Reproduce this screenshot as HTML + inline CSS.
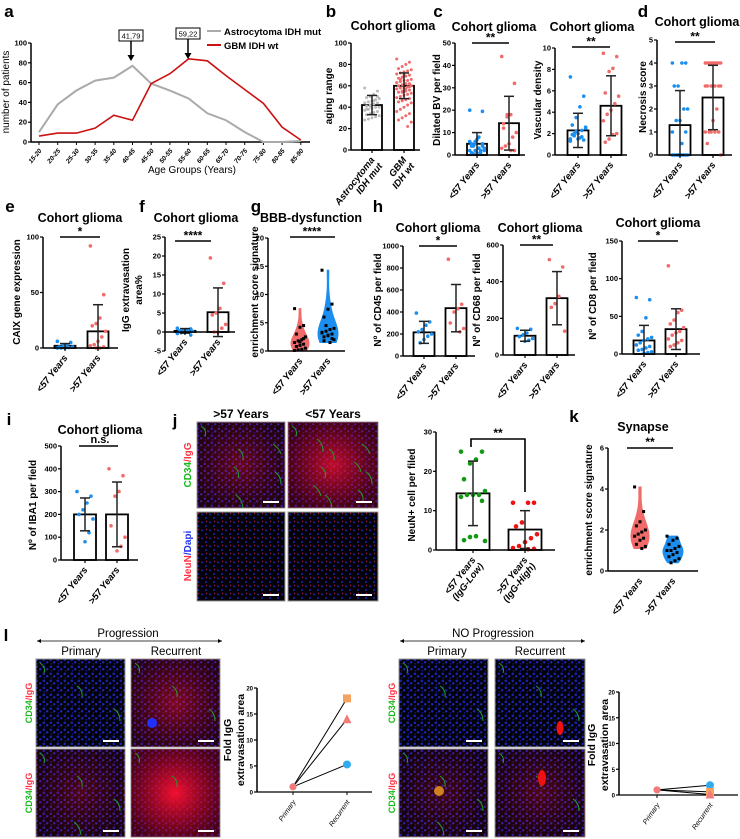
<!DOCTYPE html>
<html><head><meta charset="utf-8"><style>
html,body{margin:0;padding:0;background:#fff;}
svg{display:block;font-family:"Liberation Sans",Arial,sans-serif;}
</style></head><body>
<svg id="fig" width="740" height="839" viewBox="0 0 740 839" xmlns="http://www.w3.org/2000/svg">
<defs>
<pattern id="nuc" width="7" height="7" patternUnits="userSpaceOnUse"><rect width="7" height="7" fill="#030208"/><circle cx="1.8" cy="1.8" r="1.3" fill="#1822b0"/><circle cx="5.2" cy="4.3" r="1.2" fill="#2028c0"/><circle cx="2.5" cy="5.8" r="0.8" fill="#121890"/></pattern>
<pattern id="nuc2" width="8" height="8" patternUnits="userSpaceOnUse"><rect width="8" height="8" fill="#020108"/><circle cx="2" cy="2.5" r="1" fill="#1a28b0"/><circle cx="6" cy="6" r="1" fill="#2222b8"/><circle cx="6.5" cy="1.5" r="0.7" fill="#b01840"/></pattern>
<radialGradient id="redg" cx="50%" cy="50%" r="60%"><stop offset="0" stop-color="#ff1030" stop-opacity="1"/><stop offset="1" stop-color="#a00020" stop-opacity="0.45"/></radialGradient>
</defs>
</svg>
<script>
// ---------- DATA ----------
const ageGroups=["15-20","20-25","25-30","30-35","35-40","40-45","45-50","50-55","55-60","60-65","65-70","70-75","75-80","80-85","85-90"];
const astroCounts=[10,38,52,62,65,77,59,52,44,29,22,10,0,0,1];
const gbmCounts=[6,9,9,14,27,22,59,69,84,82,67,53,39,15,2];
const aTicks=[0,20,40,60,80,100];

const bMeans=[42,60]; const bSd=[9,12];
const bAstro=[58,55,52,50,49,48,47,46,45,44,44,43,42,41,40,40,39,38,37,36,35,34,33,32,31,30,29,28,50,46,41,38];
const bGbm=[85,82,80,78,76,75,74,73,72,71,70,69,68,67,66,65,65,64,63,62,62,61,60,60,59,58,58,57,56,55,55,54,53,52,51,50,49,48,47,46,45,44,42,40,38,36,34,32,30,28,26,22,70,66,63,59,57,54];

const c1Means=[5,14.2]; const c1Sd=[5,12];
const c1Blue=[20,19.5,8,5,4,3,2,1,0.5,6,4,3,2,5,3,1,7,4,2,5,3,6,1,2];
const c1Red=[44,32,18,18,14,10,8,5,4,3,2,2,17,12];
const c2Means=[2.3,4.6]; const c2Sd=[1.6,2.8];
const c2Blue=[7.3,5.5,4.5,3.5,2.8,2.5,2.3,2,1.8,1.5,1.4,1.6,2.2,1.9,2.6,1.7,1.5,2,1.3];
const c2Red=[9.5,9.2,8.1,7.8,5.8,5.5,4.8,4.2,3.8,3.2,2,1.9,1.5,1.2];
const dMeans=[1.3,2.5]; const dSd=[1.5,1.4];
const dBlue=[4,4,4,3,3,2,2,1.5,1.5,1,1,0.5,0,0,0,0,0,0,0,0,0,0];
const dRed=[4,4,4,4,4,4,4,4,4,3,3,3,3,3,3,2,1.5,1,1,1,1,1,0.5,0];

const eMeans=[2,15]; const eSd=[2,24];
const eBlue=[6,5,3,2,1,1,0.5,0,0,0];
const eRed=[92,48,27,22,20,15,10,6,3,2,1,0,0];
const fMeans=[0.3,5.2]; const fSd=[0.6,6.4];
const fBlue=[1,0.8,0.6,0.5,0.3,0.2,0,0,-0.2,-0.4,-0.8,0.4,0.1];
const fRed=[19.5,12.8,6.2,5,4.5,2,1,0,0];
const gRed=[7.5,4.5,4.2,3,2.5,2,1.8,1.5,1.2,1,0.8,0.5,0.3,0.2,0.1,2.2,1.6];
const gBlue=[14.3,8.3,7.4,6,4,3.8,3.5,3.2,3,2.8,2.5,2,1.5,4.5,3.3,2.2,2.7,1.8];

const h1Means=[215,435]; const h1Sd=[100,215];
const h1Blue=[390,310,280,240,220,200,180,150,120];
const h1Red=[880,470,430,400,300,250,220];
const h2Means=[105,310]; const h2Sd=[30,145];
const h2Blue=[145,140,120,110,100,90,80,75];
const h2Red=[520,480,320,280,260,130];
const h3Means=[18,33]; const h3Sd=[20,27];
const h3Blue=[75,72,48,30,25,22,20,18,15,12,10,8,6,5,3,2,1];
const h3Red=[117,58,55,45,40,35,30,28,25,20,18,15,12,10];

const iMeans=[200,200]; const iSd=[72,142];
const iBlue=[300,280,250,220,200,180,120,80];
const iRed=[400,370,300,280,150,100,60,40];
const jMeans=[14.4,5.2]; const jSd=[8.2,4.8];
const jGreen=[25,25,23,22,18,15,14,14,14,13.5,12.5,3.5,3.3,2.5,2.3];
const jRed=[12,12,12,7,6,4,3,2,1,0.5,0.3,0.2];
const kRed=[4.1,2.9,2.4,2.2,2,1.9,1.8,1.7,1.6,1.5,1.3,1.2,1.1];
const kBlue=[1.7,1.6,1.5,1.3,1.2,1.1,1,1,0.9,0.8,0.7,0.6,0.5,0.4];

const lProgPrimary=[1,1,1]; const lProgRecurrent=[5.3,18,14];
const lNoPrimary=[1,1,1]; const lNoRecurrent=[1.9,0.6,0.1];
const lTicks=[0,5,10,15,20];

// ---------- HELPERS ----------
const NS="http://www.w3.org/2000/svg";
const svg=document.getElementById('fig');
function mk(tag,attrs,name,parent){
  const el=document.createElementNS(NS,tag);
  for(const k in attrs) el.setAttribute(k,attrs[k]);
  
  
  (parent||svg).appendChild(el); return el;
}
function txt(x,y,s,size,name,opt){
  opt=opt||{};
  const a={x:x,y:y,'font-size':size,'font-weight':opt.w||'bold',fill:opt.fill||'#000','text-anchor':opt.anchor||'middle'};
  if(opt.rot!==undefined) a.transform=`rotate(${opt.rot} ${x} ${y})`;
  if(opt.italic) a['font-style']='italic';
  const t=mk('text',a,name,opt.parent); t.textContent=s; return t;
}
function line(x1,y1,x2,y2,name,sw,col,parent){return mk('line',{x1:x1,y1:y1,x2:x2,y2:y2,stroke:col||'#000','stroke-width':sw||1.5},name,parent);}
function lin(d0,d1,r0,r1){return v=>r0+(v-d0)*(r1-r0)/(d1-d0);}
function yAxis(x,ys,ticks,name,fs){
  const g=mk('g',{},name);
  line(x,ys(ticks[0]),x,ys(ticks[ticks.length-1]),name+'-line',1.5,'#000',g);
  ticks.forEach(t=>{line(x-3,ys(t),x,ys(t),name+'-tick',1.2,'#000',g);txt(x-4,ys(t)+2.5,String(t),fs||7.5,name+'-label',{anchor:'end',parent:g});});
}
function xLabels(cs,y,labels,name,lines2){
  labels.forEach((s,i)=>{
    const t=txt(cs[i]+3,y,s,9.5,name,{anchor:'end',rot:-52,italic:true});
    if(lines2){t.textContent='';const a=mk('tspan',{x:cs[i]+3,dy:0},name+'-line1',t);a.textContent=s;const b=mk('tspan',{x:cs[i]+3,dy:10},name+'-line2',t);b.textContent=lines2[i];}
  });
}
function barPanel(p){
  const ys=lin(p.ticks[0],p.ticks[p.ticks.length-1],p.y0,p.yTop);
  const g=mk('g',{},p.name);
  p.means.forEach((m,i)=>{
    mk('rect',{x:p.cs[i]-p.bw/2,y:ys(Math.max(m,p.ticks[0])),width:p.bw,height:ys(p.ticks[0]<0?0:p.ticks[0])-ys(m),fill:'#fff',stroke:'#000','stroke-width':1.8},p.name+'-bar-'+i,g);
  });
  p.dots.forEach((arr,gi)=>{
    arr.forEach((v,i)=>{
      const off=(((i*7)%9)-4)*p.bw/11;
      mk('circle',{cx:p.cs[gi]+off,cy:ys(v),r:p.r||1.8,fill:p.colors[gi]},p.name+'-dot',g);
    });
  });
  p.means.forEach((m,i)=>{
    const lo=Math.max(m-p.sd[i],p.ticks[0]),hi=m+p.sd[i];
    line(p.cs[i],ys(lo),p.cs[i],ys(hi),p.name+'-errbar',1.5,'#222',g);
    line(p.cs[i]-5,ys(hi),p.cs[i]+5,ys(hi),p.name+'-errcap',1.5,'#222',g);
    line(p.cs[i]-5,ys(lo),p.cs[i]+5,ys(lo),p.name+'-errcap',1.5,'#222',g);
  });
  yAxis(p.x0,ys,p.ticks,p.name+'-y-axis');
  const zeroY=p.ticks[0]<0?ys(0):p.y0;
  line(p.x0,zeroY,p.xEnd,zeroY,p.name+'-x-axis',1.5,'#000',g);
  p.cs.forEach(c=>line(c,zeroY,c,zeroY+3,p.name+'-x-tick',1.2,'#000',g));
  if(p.title) txt(p.titleX,p.titleY,p.title,12.5,p.name+'-title');
  if(p.sig){line(p.sig[0],p.sig[2],p.sig[1],p.sig[2],p.name+'-sig-line',1.6);txt((p.sig[0]+p.sig[1])/2,p.sig[2]-1.5,p.sig[3],12,p.name+'-sig-text');}
  txt(p.ylx,p.yly,p.ylabel,10,p.name+'-y-axis-title',{rot:-90});
  if(p.ylabel2) txt(p.ylx+13,p.yly,p.ylabel2,10,p.name+'-y-axis-title-2',{rot:-90});
  xLabels(p.cs,zeroY+10,p.xl||['<57 Years','>57 Years'],p.name+'-x-label',p.xl2);
  return ys;
}
function violin(cx,ys,vals,col,name,maxW){
  const lo=Math.min(...vals),hi=Math.max(...vals),n=24,bwd=(hi-lo)/6||0.3;
  const pts=[];let mx=0;
  for(let k=0;k<=n;k++){const v=lo+(hi-lo)*k/n;let d=0;vals.forEach(x=>{d+=Math.exp(-0.5*((v-x)/bwd)**2);});pts.push([v,d]);mx=Math.max(mx,d);}
  let dstr='';pts.forEach((p,k)=>{dstr+=(k?'L':'M')+(cx+p[1]/mx*maxW)+','+ys(p[0]);});
  for(let k=pts.length-1;k>=0;k--){dstr+='L'+(cx-pts[k][1]/mx*maxW)+','+ys(pts[k][0]);}
  mk('path',{d:dstr+'Z',fill:col,stroke:col,'stroke-width':1},name);
  vals.forEach((v,i)=>{const off=(((i*5)%7)-3)*maxW/5;mk('rect',{x:cx+off-1.5,y:ys(v)-1.5,width:3,height:3,fill:'#000'},name+'-dot');});
}
function micro(x,y,w,h,red,green,name,pat,extra){
  const g=mk('g',{},name);
  mk('rect',{x:x,y:y,width:w,height:h,fill:'url(#'+(pat||'nuc')+')',stroke:'#999','stroke-width':1},name+'-bg',g);
  if(red>0) mk('rect',{x:x,y:y,width:w,height:h,fill:'url(#redg)',opacity:red},name+'-red',g);
  for(let k=0;k<green;k++){const px=x+((k*37)%(w-12))+4,py=y+((k*23)%(h-12))+4;mk('path',{d:`M${px},${py} q6,4 ${4+k%5},${10+k%4}`,stroke:'#20a030','stroke-width':1,fill:'none'},name+'-vessel',g);}
  if(extra) extra(g);
  line(x+w-22,y+h-6,x+w-6,y+h-6,name+'-scale-bar',2,'#fff',g);
}

// ---------- PANEL A ----------
txt(9,17,'a',17,'panel-label-a');
{
  const xs=i=>39+i*18.7, ys=lin(0,100,142,43);
  yAxis(31,ys,aTicks,'a-y-axis',7.5);
  line(31,142,310,142,'a-x-axis');
  ageGroups.forEach((s,i)=>{line(xs(i),142,xs(i),145,'a-x-tick',1);txt(xs(i)+3,151,s,6.5,'a-x-tick-label',{anchor:'end',rot:-50,italic:true});});
  let d1='',d2='';
  astroCounts.forEach((v,i)=>{d1+=(i?'L':'M')+xs(i)+','+ys(v);});
  gbmCounts.forEach((v,i)=>{d2+=(i?'L':'M')+xs(i)+','+ys(v);});
  mk('path',{d:d1,fill:'none',stroke:'#aaaaaa','stroke-width':2},'astrocytoma-line');
  mk('path',{d:d2,fill:'none',stroke:'#cc1111','stroke-width':1.6},'gbm-line');
  txt(192,173,'Age Groups (Years)',10,'a-x-axis-title',{w:'normal'});
  txt(9,92,'number of patients',10,'a-y-axis-title',{rot:-90,w:'normal'});
  line(207,31,221,31,'legend-astro-swatch',2,'#aaa');txt(224,35,'Astrocytoma IDH mut',9.5,'legend-astro-label',{anchor:'start'});
  line(207,45,221,45,'legend-gbm-swatch',2,'#cc1111');txt(224,49,'GBM IDH wt',9.5,'legend-gbm-label',{anchor:'start'});
  mk('rect',{x:119,y:30,width:24,height:11,fill:'#fff',stroke:'#000','stroke-width':1},'median-box-astro');txt(131,38.5,'41,79',7.5,'median-astro',{w:'normal'});
  line(131,41,131,59,'arrow-astro',1.5);mk('path',{d:'M127.5,55 L131,61 L134.5,55Z',fill:'#000'},'arrow-astro-head');
  mk('rect',{x:176,y:28,width:24,height:11,fill:'#fff',stroke:'#000','stroke-width':1},'median-box-gbm');txt(188,36.5,'59,22',7.5,'median-gbm',{w:'normal'});
  line(188,39,188,57,'arrow-gbm',1.5);mk('path',{d:'M184.5,53 L188,59 L191.5,53Z',fill:'#000'},'arrow-gbm-head');
}
// ---------- PANEL B ----------
txt(331,17,'b',17,'panel-label-b');
barPanel({name:'b',x0:351,y0:150,yTop:43,ticks:[0,20,40,60,80,100],cs:[372,404],bw:20,means:bMeans,sd:bSd,dots:[bAstro,bGbm],colors:['#bbb','#f26b6b'],r:1.5,xEnd:420,title:'Cohort glioma',titleX:393,titleY:30,ylabel:'aging range',ylx:332,yly:96,xl:['Astrocytoma','GBM'],xl2:['IDH mut','IDH wt']});
// ---------- PANEL C ----------
txt(438,17,'c',17,'panel-label-c');
barPanel({name:'c1',x0:455,y0:155,yTop:43,ticks:[0,10,20,30,40,50],cs:[477,509],bw:20,means:c1Means,sd:c1Sd,dots:[c1Blue,c1Red],colors:['#1b8ef0','#f26b6b'],xEnd:525,title:'Cohort glioma',titleX:494,titleY:31,sig:[472,509,43,'**'],ylabel:'Dilated BV per field',ylx:440,yly:100});
barPanel({name:'c2',x0:555,y0:155,yTop:48,ticks:[0,2,4,6,8,10],cs:[578,611],bw:21,means:c2Means,sd:c2Sd,dots:[c2Blue,c2Red],colors:['#1b8ef0','#f26b6b'],xEnd:627,title:'Cohort glioma',titleX:592,titleY:31,sig:[572,610,47,'**'],ylabel:'Vascular density',ylx:541,yly:100});
// ---------- PANEL D ----------
txt(643,17,'d',17,'panel-label-d');
barPanel({name:'d',x0:657,y0:155,yTop:40,ticks:[0,1,2,3,4,5],cs:[680,713],bw:21,means:dMeans,sd:dSd,dots:[dBlue,dRed],colors:['#1b8ef0','#f26b6b'],xEnd:732,title:'Cohort glioma',titleX:697,titleY:26,sig:[675,715,42,'**'],ylabel:'Necrosis score',ylx:646,yly:97});
// ---------- ROW 2 ----------
txt(10,212,'e',17,'panel-label-e');
barPanel({name:'e',x0:43,y0:348,yTop:237,ticks:[0,50,100],cs:[65,98],bw:21,means:eMeans,sd:eSd,dots:[eBlue,eRed],colors:['#1b8ef0','#f26b6b'],xEnd:118,title:'Cohort glioma',titleX:80,titleY:222,sig:[60,100,237,'*'],ylabel:'CAIX gene expression',ylx:20,yly:292});
txt(142,212,'f',17,'panel-label-f');
barPanel({name:'f',x0:165,y0:351,yTop:237,ticks:[-5,0,5,10,15,20,25],cs:[185,218],bw:21,means:fMeans,sd:fSd,dots:[fBlue,fRed],colors:['#1b8ef0','#f26b6b'],xEnd:235,title:'Cohort glioma',titleX:196,titleY:222,sig:[175,211,241,'****'],ylabel:'IgG extravasation',ylabel2:'area%',ylx:129,yly:290});
txt(256,212,'g',17,'panel-label-g');
{
  const ys=lin(0,20,351,238);
  yAxis(268,ys,[0,5,10,15,20],'g-y-axis');
  violin(300,ys,gRed,'#f26b6b','g-violin-young',9);
  violin(328,ys,gBlue,'#1b8ef0','g-violin-old',10);
  txt(311,222,'BBB-dysfunction',12.5,'g-title');
  line(290,237,335,237,'g-sig-line',1.6);txt(312,235.5,'****',12,'g-sig-text');
  txt(258,292,'enrichment score signature',10,'g-y-axis-title',{rot:-90});
  line(268,351,345,351,'g-x-axis');
  xLabels([300,328],361,['<57 Years','>57 Years'],'g-x-label');
}
txt(378,212,'h',17,'panel-label-h');
barPanel({name:'h1',x0:403,y0:356,yTop:246,ticks:[0,200,400,600,800,1000],cs:[424,456],bw:21,means:h1Means,sd:h1Sd,dots:[h1Blue,h1Red],colors:['#1b8ef0','#f26b6b'],xEnd:475,title:'Cohort glioma',titleX:438,titleY:232,sig:[419,457,246,'*'],ylabel:'Nº of CD45 per field',ylx:381,yly:300});
barPanel({name:'h2',x0:503,y0:355,yTop:245,ticks:[0,200,400,600],cs:[525,557],bw:21,means:h2Means,sd:h2Sd,dots:[h2Blue,h2Red],colors:['#1b8ef0','#f26b6b'],xEnd:575,title:'Cohort glioma',titleX:540,titleY:232,sig:[520,553,245,'**'],ylabel:'Nº of CD68 per field',ylx:480,yly:300});
barPanel({name:'h3',x0:622,y0:354,yTop:241,ticks:[0,50,100,150],cs:[644,676],bw:21,means:h3Means,sd:h3Sd,dots:[h3Blue,h3Red],colors:['#1b8ef0','#f26b6b'],xEnd:700,title:'Cohort glioma',titleX:658,titleY:227,sig:[638,678,241,'*'],ylabel:'Nº of CD8 per field',ylx:596,yly:296});
// ---------- ROW 3 ----------
txt(9,425,'i',17,'panel-label-i');
barPanel({name:'i',x0:61,y0:560,yTop:446,ticks:[0,100,200,300,400,500],cs:[85,117],bw:22,means:iMeans,sd:iSd,dots:[iBlue,iRed],colors:['#1b8ef0','#f26b6b'],xEnd:138,title:'Cohort glioma',titleX:100,titleY:434,sig:[79,118,446,''],ylabel:'Nº of IBA1 per field',ylx:36,yly:505});
txt(100,443,'n.s.',11,'i-sig-text');
txt(175,426,'j',17,'panel-label-j');
txt(241,418,'>57 Years',12,'j-header-old');
txt(333,418,'<57 Years',12,'j-header-young');
micro(197,422,88,86,0.4,6,'j-img-old-cd34');
micro(288,422,90,86,0.75,10,'j-img-young-cd34');
micro(197,512,88,89,0,0,'j-img-old-neun','nuc2');
micro(288,512,90,89,0,0,'j-img-young-neun','nuc2');
{const t=txt(191,465,'',10,'j-side-label-cd34',{rot:-90});const a=mk('tspan',{fill:'#1bb81b'},'cd34-word',t);a.textContent='CD34';const b=mk('tspan',{fill:'#ff3344'},'igg-word',t);b.textContent='/IgG';}
{const t=txt(191,556,'',10,'j-side-label-neun',{rot:-90});const a=mk('tspan',{fill:'#ff3344'},'neun-word',t);a.textContent='NeuN';const b=mk('tspan',{fill:'#2233ee'},'dapi-word',t);b.textContent='/Dapi';}
barPanel({name:'jc',x0:436,y0:550,yTop:432,ticks:[0,10,20,30],cs:[473,525],bw:33,means:jMeans,sd:jSd,dots:[jGreen,jRed],colors:['#119911','#ee1111'],r:2.3,xEnd:555,ylabel:'NeuN+ cell per filed',ylx:415,yly:495,xl:['<57 Years','>57 Years'],xl2:['(IgG-Low)','(IgG-High)']});
mk('path',{d:'M471,447 L471,439 L525,439 L525,492',fill:'none',stroke:'#000','stroke-width':1.6},'jc-sig-bracket');
txt(498,437,'**',12,'jc-sig-text');
txt(574,422,'k',17,'panel-label-k');
{
  const ys=lin(0,6,571,448);
  yAxis(608,ys,[0,2,4,6],'k-y-axis');
  line(608,571,698,571,'k-x-axis');
  violin(640,ys,kRed,'#f26b6b','k-violin-young',9);
  violin(673,ys,kBlue,'#1b8ef0','k-violin-old',10);
  txt(643,431,'Synapse',12.5,'k-title');
  line(627,448,673,448,'k-sig-line',1.6);txt(650,446,'**',12,'k-sig-text');
  txt(592,510,'enrichment score signature',10,'k-y-axis-title',{rot:-90});
  xLabels([640,673],581,['<57 Years','>57 Years'],'k-x-label');
}
// ---------- PANEL L ----------
txt(6,641,'l',17,'panel-label-l');
function header(cx,x1,x2,s,name,p1,p2){
  txt(cx,637,s,11.5,name+'-title',{w:'normal'});
  line(x1,641,x2,641,name+'-arrow',0.8);
  mk('path',{d:`M${x2-4},639 L${x2},641 L${x2-4},643Z`,fill:'#000'},name+'-arrow-head');
  mk('path',{d:`M${x1+4},639 L${x1},641 L${x1+4},643Z`,fill:'#000'},name+'-arrow-tail');
  txt(p1,655,'Primary',11.5,name+'-primary-label',{w:'normal'});
  txt(p2,655,'Recurrent',11.5,name+'-recurrent-label',{w:'normal'});
}
header(128,37,222,'Progression','l-prog',81,176);
header(493,400,585,'NO Progression','l-noprog',447,540);
micro(36,659,89,88,0,3,'l-prog-primary-1');
micro(131,659,89,88,0.5,3,'l-prog-recurrent-1',null,g=>mk('circle',{cx:152,cy:723,r:5,fill:'#2030ff'},'blue-blob',g));
micro(36,749,89,88,0.3,4,'l-prog-primary-2');
micro(131,749,89,88,0.95,2,'l-prog-recurrent-2');
micro(399,659,89,88,0,3,'l-noprog-primary-1');
micro(495,659,90,88,0,3,'l-noprog-recurrent-1',null,g=>mk('ellipse',{cx:560,cy:728,rx:3.5,ry:7,fill:'#ee1111'},'red-blob',g));
micro(399,749,89,88,0.25,4,'l-noprog-primary-2',null,g=>mk('circle',{cx:439,cy:791,r:5,fill:'#d08020'},'orange-blob',g));
micro(495,749,90,88,0.3,3,'l-noprog-recurrent-2',null,g=>mk('ellipse',{cx:542,cy:778,rx:4,ry:8,fill:'#ee1111'},'red-blob-2',g));
function sideLabel(x,y,name){const t=txt(x,y,'',9,name,{rot:-90});const a=mk('tspan',{fill:'#1bb81b'},'cd34-word',t);a.textContent='CD34';const b=mk('tspan',{fill:'#ff3344'},'igg-word',t);b.textContent='/IgG';}
sideLabel(32,703,'l-prog-side-label-1');sideLabel(32,793,'l-prog-side-label-2');
sideLabel(395,703,'l-noprog-side-label-1');sideLabel(395,793,'l-noprog-side-label-2');
function pairChart(name,x0,y0,yTop,px,rx,xEnd,prim,rec,ylx,yly){
  const ys=lin(0,20,y0,yTop);
  yAxis(x0,ys,lTicks,name+'-y-axis',6);
  line(x0,y0,xEnd,y0,name+'-x-axis',1.2);
  line(px,y0,px,y0+3,name+'-x-tick',1);line(rx,y0,rx,y0+3,name+'-x-tick',1);
  const cols=['#33aaee','#f4a460','#f47a7a'];
  prim.forEach((v,i)=>line(px,ys(v),rx,ys(rec[i]),name+'-pair-line',1,'#000'));
  prim.forEach((v,i)=>{mk('circle',{cx:px,cy:ys(v),r:3.5,fill:cols[i]},name+'-primary-point');});
  mk('circle',{cx:rx,cy:ys(rec[0]),r:4,fill:cols[0]},name+'-recurrent-circle');
  mk('rect',{x:rx-4,y:ys(rec[1])-4,width:8,height:8,fill:cols[1]},name+'-recurrent-square');
  mk('path',{d:`M${rx-4.5},${ys(rec[2])+4} L${rx+4.5},${ys(rec[2])+4} L${rx},${ys(rec[2])-5}Z`,fill:cols[2]},name+'-recurrent-triangle');
  txt(px+3,y0+10,'Primary',7,name+'-x-label',{anchor:'end',rot:-55,italic:true,w:'normal'});
  txt(rx+3,y0+10,'Recurrent',7,name+'-x-label',{anchor:'end',rot:-55,italic:true,w:'normal'});
  txt(ylx,yly,'Fold IgG',10.5,name+'-y-title-1',{rot:-90});
  txt(ylx+13,yly,'extravasation area',10.5,name+'-y-title-2',{rot:-90});
}
pairChart('l-prog-chart',257,792,688,293,347,372,lProgPrimary,lProgRecurrent,231,740);
pairChart('l-noprog-chart',619,795,692,657,710,738,lNoPrimary,lNoRecurrent,595,745);
</script>
</body></html>
